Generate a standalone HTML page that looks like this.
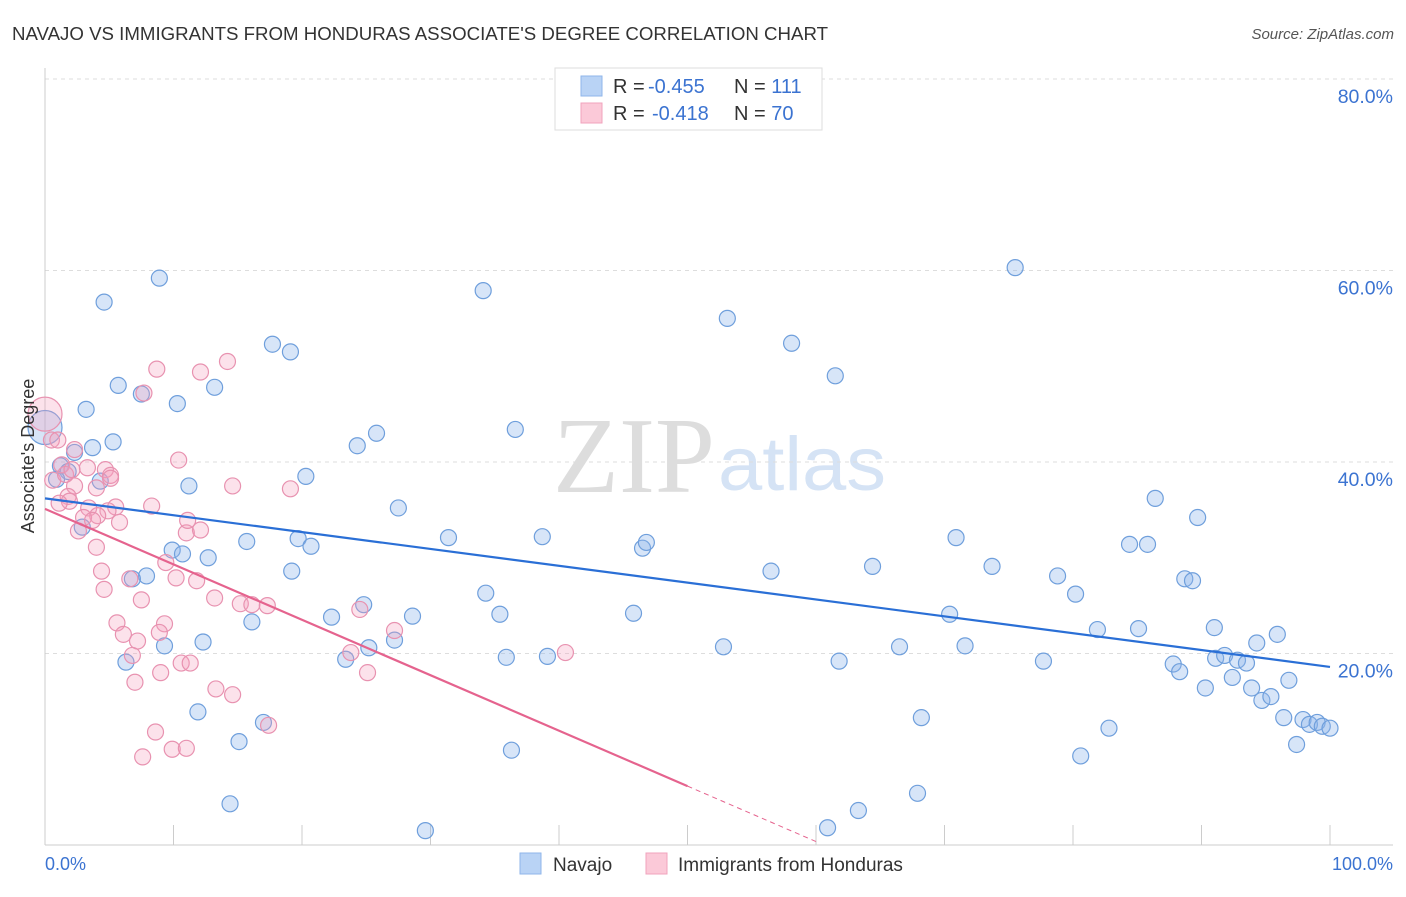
<!DOCTYPE html>
<html><head><meta charset="utf-8"><style>
body{margin:0;background:#fff;font-family:"Liberation Sans",sans-serif;}
</style></head><body>
<svg id="chart" width="1406" height="892" xmlns="http://www.w3.org/2000/svg" style="font-family:'Liberation Sans',sans-serif">
<text x="12" y="40" font-size="18" fill="#333" textLength="816" lengthAdjust="spacingAndGlyphs">NAVAJO VS IMMIGRANTS FROM HONDURAS ASSOCIATE'S DEGREE CORRELATION CHART</text>
<text x="1394" y="39" font-size="15" font-style="italic" fill="#555" text-anchor="end">Source: ZipAtlas.com</text>
<g>
<text x="553" y="492" font-size="108" fill="#ddd" font-family="Liberation Serif,serif" textLength="162" lengthAdjust="spacingAndGlyphs">ZIP</text>
<text x="718" y="490" font-size="76" fill="#d5e3f5" textLength="168" lengthAdjust="spacingAndGlyphs">atlas</text>
</g>
<g id="grid"></g><g id="axes"></g><g id="marks"></g>
<text transform="translate(34,456) rotate(-90)" font-size="18" fill="#333" text-anchor="middle">Associate's Degree</text>
<text x="45" y="870" font-size="18" fill="#3b73d1">0.0%</text>
<text x="1393" y="870" font-size="18" fill="#3b73d1" text-anchor="end">100.0%</text>
<g>
<rect x="555" y="68" width="267" height="62" fill="#fff" stroke="#ddd"/>
<rect x="581" y="76" width="21" height="20" fill="#b9d3f5" stroke="#8fb6ea"/>
<rect x="581" y="103" width="21" height="20" fill="#fbc9d8" stroke="#f0a3bd"/>
<text x="613" y="93" font-size="20" fill="#333">R = <tspan x="648" fill="#3b73d1">-0.455</tspan><tspan x="734">N = </tspan><tspan fill="#3b73d1">111</tspan></text>
<text x="613" y="120" font-size="20" fill="#333">R = <tspan x="652" fill="#3b73d1">-0.418</tspan><tspan x="734">N = </tspan><tspan fill="#3b73d1">70</tspan></text>
</g>
<g>
<rect x="520" y="853" width="21" height="21" fill="#b9d3f5" stroke="#8fb6ea"/>
<text x="553" y="871" font-size="19" fill="#333">Navajo</text>
<rect x="646" y="853" width="21" height="21" fill="#fbc9d8" stroke="#f0a3bd"/>
<text x="678" y="871" font-size="19" fill="#333">Immigrants from Honduras</text>
</g>
</svg>
<script>
const yTicks=[20,40,60,80];
const yTickLabels=["20.0%","40.0%","60.0%","80.0%"];
const xTicks=[0,10,20,30,40,50,60,70,80,90,100];
const navajoX=[8.9,4.6,34.1,75.5,53.1,58.1,61.5,17.7,19.1,5.7,7.5,13.2,10.3,3.2,5.3,3.7,2.3,24.3,25.8,36.6,1.2,1.8,0.9,4.3,11.2,20.3,2.9,27.5,86.4,89.7,9.9,10.7,12.7,15.7,19.7,20.7,31.4,38.7,46.5,46.8,70.9,84.4,85.8,7.9,6.8,19.2,56.5,64.4,73.7,78.8,80.2,88.7,89.3,34.3,22.3,24.8,28.6,35.4,45.8,70.4,16.1,81.9,85.1,91.0,95.9,9.3,12.3,27.2,25.2,52.8,66.5,71.6,94.3,6.3,23.4,35.9,39.1,61.8,77.7,87.8,91.1,91.8,92.8,93.5,88.3,92.4,96.8,90.3,93.9,94.7,95.4,11.9,17.0,68.2,96.4,97.9,98.4,99.0,99.4,100,82.8,15.1,36.3,97.4,80.6,14.4,67.9,63.3,60.9,29.6,0];
const navajoY=[59.2,56.7,57.9,60.3,55.0,52.4,49.0,52.3,51.5,48.0,47.1,47.8,46.1,45.5,42.1,41.5,41.0,41.7,43.0,43.4,39.6,39.0,38.2,38.0,37.5,38.5,33.2,35.2,36.2,34.2,30.8,30.4,30.0,31.7,32.0,31.2,32.1,32.2,31.0,31.6,32.1,31.4,31.4,28.1,27.8,28.6,28.6,29.1,29.1,28.1,26.2,27.8,27.6,26.3,23.8,25.1,23.9,24.1,24.2,24.1,23.3,22.5,22.6,22.7,22.0,20.8,21.2,21.4,20.6,20.7,20.7,20.8,21.1,19.1,19.4,19.6,19.7,19.2,19.2,18.9,19.5,19.8,19.3,19.0,18.1,17.5,17.2,16.4,16.4,15.1,15.5,13.9,12.8,13.3,13.3,13.1,12.6,12.8,12.4,12.2,12.2,10.8,9.9,10.5,9.3,4.3,5.4,3.6,1.8,1.5,43.6];
const hondX=[0,0.5,2.3,1.3,3.3,4.7,5.1,0.6,2.3,1.8,1.9,3.4,5.5,4.9,4.1,3.0,5.8,2.6,8.3,4.0,11.0,12.1,9.4,4.4,6.6,10.2,11.8,4.6,7.5,13.2,15.2,16.1,17.3,24.5,5.6,9.3,6.1,8.9,7.2,27.2,23.8,6.8,40.5,10.6,11.3,25.1,9.0,7.0,13.3,14.6,8.6,17.4,9.9,11.0,7.6,8.7,14.2,12.1,7.7,10.4,14.6,19.1,5.1,4.0,1.6,1.0,1.1,2.1,3.7,11.1];
const hondY=[45.0,42.3,41.3,39.7,39.4,39.2,38.6,38.1,37.5,36.4,35.9,35.2,35.3,34.9,34.4,34.2,33.7,32.8,35.4,31.1,32.6,32.9,29.5,28.6,27.8,27.9,27.6,26.7,25.6,25.8,25.2,25.1,25.0,24.6,23.2,23.1,22.0,22.2,21.3,22.4,20.1,19.8,20.1,19.0,19.0,18.0,18.0,17.0,16.3,15.7,11.8,12.5,10.0,10.1,9.2,49.7,50.5,49.4,47.2,40.2,37.5,37.2,38.3,37.3,38.7,42.3,35.7,39.2,33.9,33.9];
const navajoTrend=[36.2,18.6];
const hondTrend=[35.1,-22.8];
const hondSolidEnd=50;
const hondDashEnd=60;

const NS="http://www.w3.org/2000/svg";
const X0=45,X1=1330,Y0=845,YPER=9.575;
const sx=v=>X0+(X1-X0)*v/100;
const sy=v=>Y0-v*YPER;
function mk(tag,attrs,parent){const e=document.createElementNS(NS,tag);for(const k in attrs)e.setAttribute(k,attrs[k]);parent.appendChild(e);return e;}
const grid=document.getElementById('grid'),axes=document.getElementById('axes'),marks=document.getElementById('marks');
yTicks.forEach((t,i)=>{
 const l=mk('line',{x1:X0,x2:1393,y1:sy(t),y2:sy(t),stroke:'#ddd','stroke-dasharray':'4,4'},grid);
 
 
 const tx=mk('text',{x:1393,y:sy(t)+24,'font-size':19.5,fill:'#3b73d1','text-anchor':'end'},axes);
 tx.textContent=yTickLabels[i];
 
 
});
const ax=mk('line',{x1:X0,x2:X0,y1:68,y2:Y0,stroke:'#ccc'},axes);


const bx=mk('line',{x1:X0,x2:1393,y1:Y0,y2:Y0,stroke:'#ccc'},axes);


xTicks.forEach(t=>{
 const l=mk('line',{x1:sx(t),x2:sx(t),y1:Y0-20,y2:Y0,stroke:'#ccc'},axes);
 
 
});
function pts(xs,ys,fill,stroke,name){
 xs.forEach((x,i)=>{
  const big=(x===0&&ys[i]>43);
  const c=mk('circle',{cx:sx(x),cy:sy(ys[i]),r:big?17:8,fill:fill,stroke:stroke,'stroke-width':1.2},marks);
  
  
 });
}
pts(navajoX,navajoY,'rgba(140,180,235,0.35)','#6f9fdc','navajo-point');
pts(hondX,hondY,'rgba(245,160,190,0.3)','#e892b0','honduras-point');
const nl=mk('line',{x1:sx(0),y1:sy(navajoTrend[0]),x2:sx(100),y2:sy(navajoTrend[1]),stroke:'#2a6fd6','stroke-width':2.2},marks);


const hy=x=>hondTrend[0]+(hondTrend[1]-hondTrend[0])*x/100;
const hl=mk('line',{x1:sx(0),y1:sy(hy(0)),x2:sx(hondSolidEnd),y2:sy(hy(hondSolidEnd)),stroke:'#e5638e','stroke-width':2.2},marks);


const hd=mk('line',{x1:sx(hondSolidEnd),y1:sy(hy(hondSolidEnd)),x2:sx(hondDashEnd),y2:sy(hy(hondDashEnd)),stroke:'#e5638e','stroke-width':1,'stroke-dasharray':'5,4'},marks);


</script>
</body></html>
